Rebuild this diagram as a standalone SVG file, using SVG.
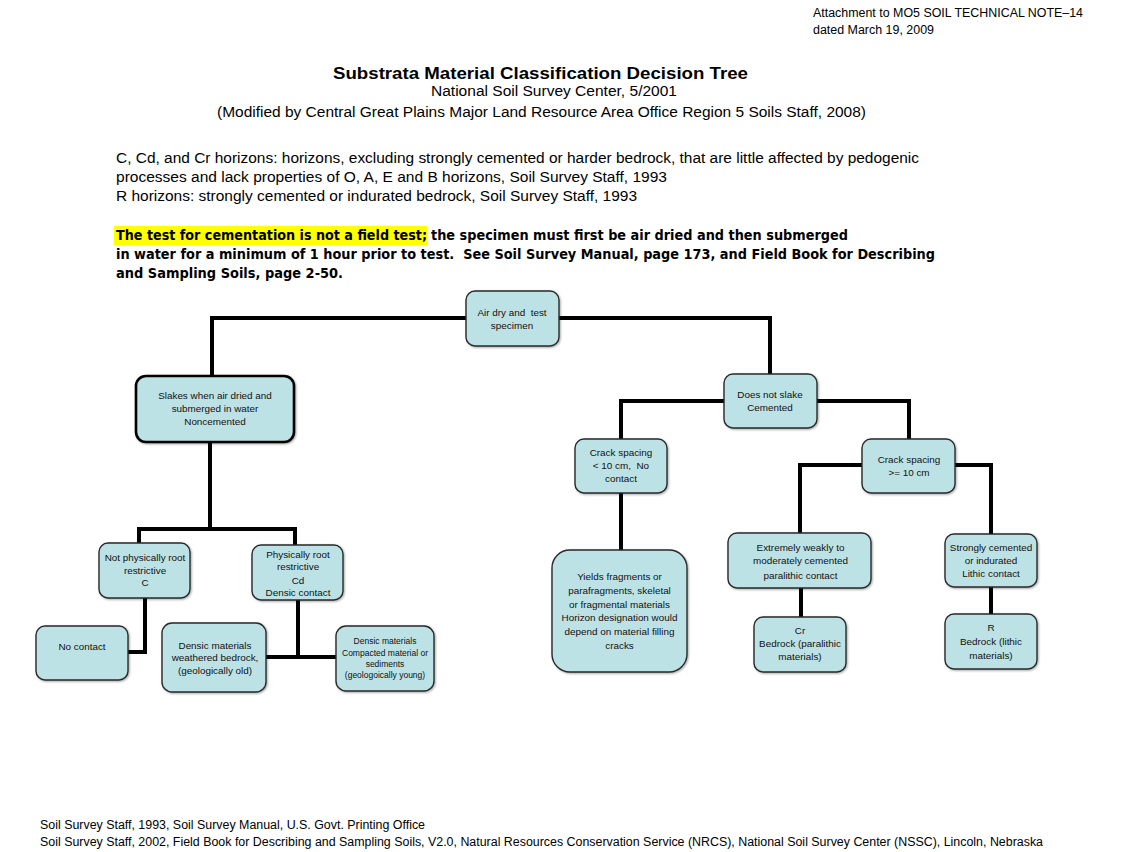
<svg xmlns="http://www.w3.org/2000/svg" width="1121" height="852" viewBox="0 0 1121 852">
<style>
.t{font-family:"Liberation Sans",Arial,sans-serif;fill:#000}
.n{font-family:"Liberation Sans",Arial,sans-serif;font-size:9.9px;fill:#111;text-anchor:middle}
.s{font-size:8.5px}
.box{fill:#bde2e5;stroke:#2a2a2a;stroke-width:1.4}
.thick{stroke:#000;stroke-width:2.6}
.c{fill:none;stroke:#000;stroke-width:4;stroke-linejoin:miter}
.b{font-weight:bold;font-family:"DejaVu Sans","Liberation Sans",sans-serif;font-size:13.5px}
</style>
<defs>
<filter id="sh" x="-10%" y="-10%" width="130%" height="130%">
<feDropShadow dx="1" dy="1" stdDeviation="0.8" flood-color="#000" flood-opacity="0.35"/>
</filter>
</defs>
<rect width="1121" height="852" fill="#fff"/>

<g id="header">
<text class="t" x="813" y="17" font-size="12" textLength="270" lengthAdjust="spacingAndGlyphs">Attachment to MO5 SOIL TECHNICAL NOTE–14</text>
<text class="t" x="813" y="34" font-size="12" textLength="121" lengthAdjust="spacingAndGlyphs">dated March 19, 2009</text>
<text class="t" x="333" y="79" font-size="17" font-weight="bold" textLength="415" lengthAdjust="spacingAndGlyphs">Substrata Material Classification Decision Tree</text>
<text class="t" x="431" y="96" font-size="14" textLength="246" lengthAdjust="spacingAndGlyphs">National Soil Survey Center, 5/2001</text>
<text class="t" x="217" y="117" font-size="14" textLength="649" lengthAdjust="spacingAndGlyphs">(Modified by Central Great Plains Major Land Resource Area Office Region 5 Soils Staff, 2008)</text>
<text class="t" x="116" y="163" font-size="14" textLength="803" lengthAdjust="spacingAndGlyphs">C, Cd, and Cr horizons: horizons, excluding strongly cemented or harder bedrock, that are little affected by pedogenic</text>
<text class="t" x="116" y="182" font-size="14" textLength="551" lengthAdjust="spacingAndGlyphs">processes and lack properties of O, A, E and B horizons, Soil Survey Staff, 1993</text>
<text class="t" x="116" y="201" font-size="14" textLength="521" lengthAdjust="spacingAndGlyphs">R horizons: strongly cemented or indurated bedrock, Soil Survey Staff, 1993</text>
<rect x="114" y="226" width="313" height="19" fill="#ffff00"/>
<text class="b" x="116" y="240" textLength="311" lengthAdjust="spacingAndGlyphs">The test for cementation is not a field test;</text>
<text class="b" x="431" y="240" textLength="417" lengthAdjust="spacingAndGlyphs">the specimen must first be air dried and then submerged</text>
<text class="b" x="116" y="259" textLength="819" lengthAdjust="spacingAndGlyphs" xml:space="preserve">in water for a minimum of 1 hour prior to test.  See Soil Survey Manual, page 173, and Field Book for Describing</text>
<text class="b" x="116" y="278" textLength="227" lengthAdjust="spacingAndGlyphs">and Sampling Soils, page 2-50.</text>
</g>

<g id="connectors">
<path class="c" d="M466,318 H212 V376"/>
<path class="c" d="M559,318 H770 V374"/>
<path class="c" d="M210,442 V529"/>
<path class="c" d="M139,545 V529 H295 V545"/>
<path class="c" d="M145,598 V652 H128"/>
<path class="c" d="M298,600 V657"/>
<path class="c" d="M266,657 H336"/>
<path class="c" d="M724,401 H621 V439"/>
<path class="c" d="M817,401 H909 V439"/>
<path class="c" d="M621,493 V550"/>
<path class="c" d="M862,465 H800 V533"/>
<path class="c" d="M955,465 H991 V534"/>
<path class="c" d="M801,588 V617"/>
<path class="c" d="M991,587 V614"/>
</g>

<g id="n-airdry">
<rect class="box" filter="url(#sh)" x="466" y="291" width="93" height="55" rx="9"/>
<text class="n" x="512" y="315.5" xml:space="preserve">Air dry and  test</text>
<text class="n" x="512" y="328.5">specimen</text>
</g>

<g id="n-slakes">
<rect class="box thick" filter="url(#sh)" x="136" y="376" width="158" height="66" rx="10"/>
<text class="n" x="215" y="398.5">Slakes when air dried and</text>
<text class="n" x="215" y="411.5">submerged in water</text>
<text class="n" x="215" y="425">Noncemented</text>
</g>

<g id="n-notphys">
<rect class="box" filter="url(#sh)" x="99" y="543" width="91" height="55" rx="9"/>
<text class="n" x="145" y="561">Not physically root</text>
<text class="n" x="145" y="573.5">restrictive</text>
<text class="n" x="145" y="586">C</text>
</g>

<g id="n-phys">
<rect class="box" filter="url(#sh)" x="252" y="545" width="91" height="55" rx="9"/>
<text class="n" x="298" y="557.5">Physically root</text>
<text class="n" x="298" y="570">restrictive</text>
<text class="n" x="298" y="583.5">Cd</text>
<text class="n" x="298" y="596">Densic contact</text>
</g>

<g id="n-nocontact">
<rect class="box" filter="url(#sh)" x="36" y="626" width="92" height="54" rx="9"/>
<text class="n" x="82" y="649.5">No contact</text>
</g>

<g id="n-densic1">
<rect class="box" filter="url(#sh)" x="162" y="623" width="104" height="69" rx="10"/>
<text class="n" x="215" y="648.5">Densic materials</text>
<text class="n" x="215" y="660.5">weathered bedrock,</text>
<text class="n" x="215" y="673.5">(geologically old)</text>
</g>

<g id="n-densic2">
<rect class="box" filter="url(#sh)" x="336" y="626" width="98" height="65" rx="10"/>
<text class="n s" x="385" y="644">Densic materials</text>
<text class="n s" x="385" y="655.5">Compacted material or</text>
<text class="n s" x="385" y="666.5">sediments</text>
<text class="n s" x="385" y="677.5">(geologoically young)</text>
</g>

<g id="n-notslake">
<rect class="box" filter="url(#sh)" x="724" y="374" width="93" height="54" rx="9"/>
<text class="n" x="770" y="397.5">Does not slake</text>
<text class="n" x="770" y="410.5">Cemented</text>
</g>

<g id="n-crack1">
<rect class="box" filter="url(#sh)" x="575" y="439" width="92" height="54" rx="9"/>
<text class="n" x="621" y="455.5">Crack spacing</text>
<text class="n" x="621" y="468.5" xml:space="preserve">&lt; 10 cm,  No</text>
<text class="n" x="621" y="481.5">contact</text>
</g>

<g id="n-crack2">
<rect class="box" filter="url(#sh)" x="862" y="439" width="93" height="54" rx="9"/>
<text class="n" x="909" y="462.5">Crack spacing</text>
<text class="n" x="909" y="475.5">&gt;= 10 cm</text>
</g>

<g id="n-yields">
<rect class="box" filter="url(#sh)" x="552" y="550" width="135" height="122" rx="18"/>
<text class="n" x="619.5" y="580">Yields fragments or</text>
<text class="n" x="619.5" y="593.5">parafragments, skeletal</text>
<text class="n" x="619.5" y="607.5">or fragmental materials</text>
<text class="n" x="619.5" y="621">Horizon designation would</text>
<text class="n" x="619.5" y="634.5">depend on material filling</text>
<text class="n" x="619.5" y="648.5">cracks</text>
</g>

<g id="n-extremely">
<rect class="box" filter="url(#sh)" x="728" y="533" width="143" height="55" rx="9"/>
<text class="n" x="800.5" y="550.5">Extremely weakly to</text>
<text class="n" x="800.5" y="563.5">moderately cemented</text>
<text class="n" x="800.5" y="578.5">paralithic contact</text>
</g>

<g id="n-strongly">
<rect class="box" filter="url(#sh)" x="945" y="534" width="92" height="53" rx="9"/>
<text class="n" x="991" y="551">Strongly cemented</text>
<text class="n" x="991" y="563.5">or indurated</text>
<text class="n" x="991" y="576.5">Lithic contact</text>
</g>

<g id="n-cr">
<rect class="box" filter="url(#sh)" x="754" y="617" width="92" height="55" rx="9"/>
<text class="n" x="800" y="634">Cr</text>
<text class="n" x="800" y="647">Bedrock (paralithic</text>
<text class="n" x="800" y="659.5">materials)</text>
</g>

<g id="n-r">
<rect class="box" filter="url(#sh)" x="945" y="614" width="92" height="55" rx="9"/>
<text class="n" x="991" y="631">R</text>
<text class="n" x="991" y="644.5">Bedrock (lithic</text>
<text class="n" x="991" y="658.5">materials)</text>
</g>

<g id="footer">
<text class="t" x="40" y="829" font-size="12" textLength="385" lengthAdjust="spacingAndGlyphs">Soil Survey Staff, 1993, Soil Survey Manual, U.S. Govt. Printing Office</text>
<text class="t" x="40" y="846" font-size="12" textLength="1003" lengthAdjust="spacingAndGlyphs">Soil Survey Staff, 2002, Field Book for Describing and Sampling Soils, V2.0, Natural Resources Conservation Service (NRCS), National Soil Survey Center (NSSC), Lincoln, Nebraska</text>
</g>
</svg>
